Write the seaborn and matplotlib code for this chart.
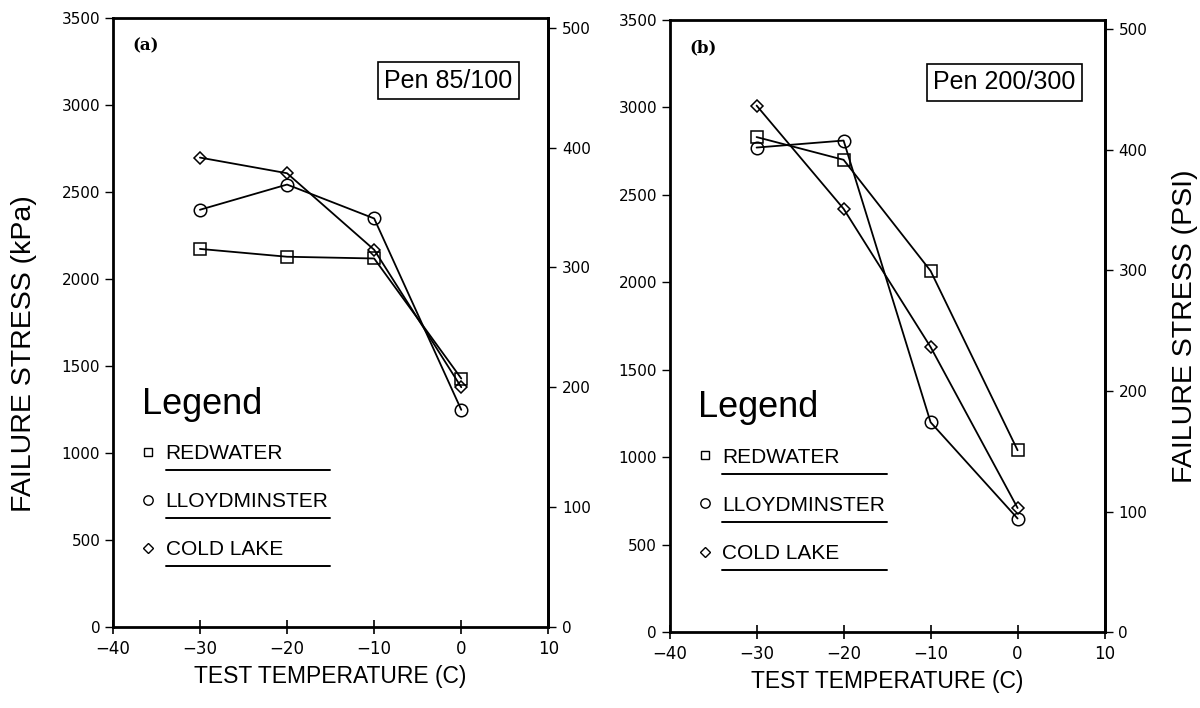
import matplotlib
matplotlib.use("Agg")
import matplotlib.pyplot as plt
import seaborn as sns
import pandas as pd
from matplotlib.lines import Line2D

# ---------------- data ----------------
temps = [-30, -20, -10, 0]
series_names = ["REDWATER", "LLOYDMINSTER", "COLD LAKE"]

pen85_redwater = [2175, 2130, 2120, 1430]
pen85_lloydminster = [2400, 2545, 2350, 1250]
pen85_coldlake = [2700, 2610, 2170, 1380]

pen200_redwater = [2830, 2700, 2065, 1040]
pen200_lloydminster = [2770, 2810, 1200, 650]
pen200_coldlake = [3010, 2420, 1630, 710]

panel_titles = ["Pen 85/100", "Pen 200/300"]
panel_tags = ["(a)", "(b)"]
x_ticks = [-40, -30, -20, -10, 0, 10]
kpa_ticks = [0, 500, 1000, 1500, 2000, 2500, 3000, 3500]
psi_ticks = [0, 100, 200, 300, 400, 500]
x_label = "TEST TEMPERATURE (C)"
y_label_left = "FAILURE STRESS (kPa)"
y_label_right = "FAILURE STRESS (PSI)"
legend_title = "Legend"

KPA_PER_PSI = 6.894757

# ---------------- style ----------------
sns.set_style("ticks")
plt.rcParams["font.family"] = ["DejaVu Sans"]
plt.rcParams["text.color"] = "black"
plt.rcParams["axes.labelcolor"] = "black"
plt.rcParams["xtick.color"] = "black"
plt.rcParams["ytick.color"] = "black"
LABEL_FONT = ["Liberation Sans Narrow", "Liberation Sans", "DejaVu Sans"]

markers = {"REDWATER": "s", "LLOYDMINSTER": "o", "COLD LAKE": "D"}
msizes = {"REDWATER": 8, "LLOYDMINSTER": 9, "COLD LAKE": 6.5}


def panel_frame(red, lloyd, cold):
    rows = []
    for name, vals in zip(series_names, [red, lloyd, cold]):
        for t, v in zip(temps, vals):
            rows.append({"temp": t, "stress": v, "series": name})
    return pd.DataFrame(rows)


frames = [
    panel_frame(pen85_redwater, pen85_lloydminster, pen85_coldlake),
    panel_frame(pen200_redwater, pen200_lloydminster, pen200_coldlake),
]

fig = plt.figure(figsize=(12, 7.08), dpi=100)
ax_a = fig.add_axes([0.094, 0.114, 0.363, 0.860])
ax_b = fig.add_axes([0.558, 0.107, 0.3625, 0.865])
axes = [ax_a, ax_b]

for i, (ax, df) in enumerate(zip(axes, frames)):
    for name in series_names:
        sub = df[df["series"] == name]
        sns.lineplot(data=sub, x="temp", y="stress", ax=ax, color="black",
                     marker=markers[name], markersize=msizes[name],
                     markerfacecolor="none", markeredgecolor="black",
                     markeredgewidth=1.1, linewidth=1.3, legend=False)

    ax.set_xlim(-40, 10)
    ax.set_ylim(0, 3500)
    ax.set_xticks(x_ticks)
    ax.set_yticks(kpa_ticks)
    ax.tick_params(axis="y", direction="out", length=6, width=1.0, labelsize=11, pad=3)
    ax.tick_params(axis="x", direction="inout", length=10, width=1.2, labelsize=12, pad=4)
    for sp in ax.spines.values():
        sp.set_visible(True)
        sp.set_linewidth(2.0)
        sp.set_color("black")
    ax.set_xlabel(x_label, fontsize=16.5, family=LABEL_FONT, labelpad=5)
    ax.set_ylabel("")

    sec = ax.secondary_yaxis("right", functions=(lambda k: k / KPA_PER_PSI,
                                                   lambda p: p * KPA_PER_PSI))
    sec.set_yticks(psi_ticks)
    sec.tick_params(axis="y", direction="out", length=6, width=1.0, labelsize=11,
                    pad=4, colors="black")
    sec.spines["right"].set_linewidth(2.0)
    sec.spines["right"].set_color("black")

    # panel tag and title box
    ax.text(0.046, 0.955, panel_tags[i], transform=ax.transAxes, fontsize=12,
            fontweight="bold", family="DejaVu Serif", ha="left", va="center")
    ax.text(0.77, 0.898, panel_titles[i], transform=ax.transAxes, fontsize=18,
            family=LABEL_FONT, ha="center", va="center",
            bbox=dict(boxstyle="square,pad=0.25", fc="white", ec="black", lw=1.2))

    # legend
    handles = [Line2D([], [], marker=markers[n], linestyle="none", color="black",
                      markerfacecolor="none", markersize=msizes[n] * 0.75,
                      markeredgewidth=1.0) for n in series_names]
    leg = ax.legend(handles, series_names, title=legend_title, loc="upper left",
                    bbox_to_anchor=(0.066, 0.395), frameon=False,
                    prop={"family": LABEL_FONT, "size": 15},
                    title_fontproperties={"family": LABEL_FONT, "size": 26},
                    handlelength=0.6, handletextpad=0.55, labelspacing=1.4,
                    borderpad=0, borderaxespad=0, alignment="left")
    leg._legend_box.sep = 16

    if i == 0:
        ax.set_ylabel(y_label_left, fontsize=20.5, family=LABEL_FONT)
        ax.yaxis.set_label_coords(-0.175, 0.45)
    else:
        sec.set_ylabel(y_label_right, fontsize=20.5, family=LABEL_FONT, labelpad=18,
                       color="black")

# underline legend entries
fig.canvas.draw()
renderer = fig.canvas.get_renderer()
for ax in axes:
    leg = ax.get_legend()
    texts = leg.get_texts()
    exts = [t.get_window_extent(renderer) for t in texts]
    width = max(e.width for e in exts) + 2
    inv = ax.transAxes.inverted()
    for e in exts:
        (x0, y0) = inv.transform((e.x0, e.y0 - 7))
        (x1, _) = inv.transform((e.x0 + width, e.y0 - 7))
        ax.add_line(Line2D([x0, x1], [y0, y0], transform=ax.transAxes,
                           color="black", linewidth=1.4, clip_on=False))

fig.savefig("out.png", dpi=100)
